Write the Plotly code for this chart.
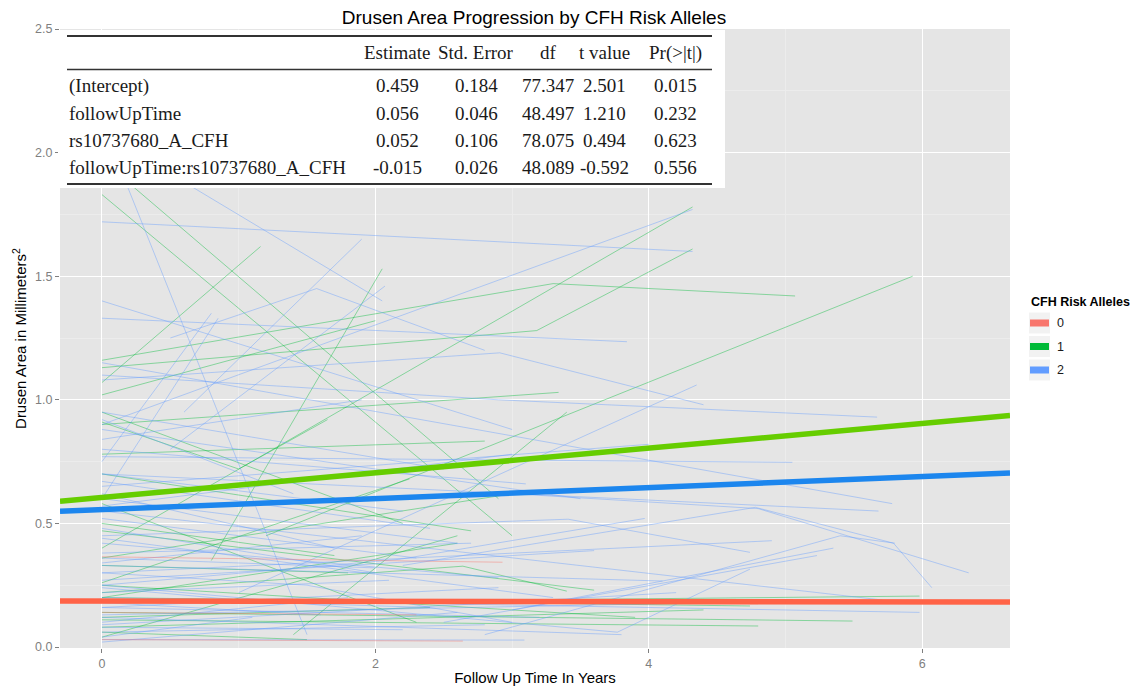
import plotly.graph_objects as go

# ---------------- data ----------------
group_levels = ["0", "1", "2"]

# thin per-subject trajectories: (times, values)
red_times = [[0, 2.93], [0, 2.64], [0, 2.3], [0, 4.8]]
red_values = [[0.365, 0.343], [0.03, 0.024], [0.14, 0.13], [0.185, 0.175]]

green_times = [
    [0, 3.0], [0, 2.9], [0, 1.16], [0.8, 2.05], [0, 3.3, 5.07], [0, 4.32],
    [0, 3.18, 4.32], [0, 3.34], [1.2, 5.93], [0, 2.8], [0, 1.0, 1.65],
    [0, 2.64, 3.4], [3.0, 5.98], [0, 5.49], [0, 4.8], [0, 4.74], [0, 2.6],
    [0, 2.3], [0, 2.25], [0, 2.6], [0, 2.0], [1.4, 3.4], [0, 1.8], [0, 3.6],
    [0, 1.5], [0, 2.2], [0, 2.4], [0, 3.9], [0, 1.7], [0, 4.4], [0, 2.7], [0, 3.0],
]
green_values = [
    [1.83, 0.45], [1.97, 0.60], [1.07, 1.62], [0.35, 1.53], [1.16, 1.47, 1.42], [0.40, 1.78],
    [1.13, 1.28, 1.61], [0.90, 1.03], [0.45, 1.50], [0.78, 0.833], [0.91, 0.72, 0.92],
    [0.22, 0.327, 0.226], [0.19, 0.206], [0.14, 0.105], [0.11, 0.085], [0.20, 0.166], [0.20, 0.42],
    [0.58, 0.10], [0.26, 0.68], [0.04, 0.45], [1.02, 1.32], [0.05, 0.95], [0.33, 0.30], [0.47, 0.23],
    [0.06, 0.03], [0.95, 0.50], [0.12, 0.16], [0.25, 0.12], [0.50, 0.37], [0.08, 0.15], [0.70, 0.47],
    [0.36, 0.62],
]

blue_times = [
    [0, 4.32], [0, 1.5], [0, 2.05], [0, 3.0], [0.6, 1.9], [0.5, 2.07], [0.5, 1.57, 2.8],
    [0, 4.32], [0, 3.84], [0, 2.91, 4.4], [1.0, 4.35], [0, 2.9, 5.67], [0, 5.78], [0, 5.05],
    [0, 5.68], [2.2, 4.78, 5.79, 6.07], [3.0, 4.8, 6.34], [2.8, 5.4, 5.8], [2.5, 5.23],
    [3.0, 5.35], [0, 5.71], [0, 5.98], [0, 3.41, 4.74], [0, 2.18, 3.97], [0, 4.1],
    [0, 3.77, 4.74], [0, 3.09], [0, 2.6], [0, 1.8], [0, 3.2], [0, 2.2], [0, 1.5, 3.0],
    [0, 2.0], [0, 2.7], [0, 1.7], [0, 2.4], [0, 0.8], [0, 0.85], [0, 2.5], [0, 3.5],
    [0, 1.9], [0, 2.2], [0, 4.0], [0, 3.0], [0, 2.9], [0, 2.0], [0, 3.6], [0, 1.2, 2.4],
    [0, 4.5], [0, 2.8], [0, 1.6], [0, 2.3], [0, 3.3], [0, 1.9], [0, 4.2], [0, 3.8],
    [0, 2.1], [0, 1.4], [0, 3.1], [0, 2.6], [0, 4.9], [0, 1.1], [0, 2.9],
]
blue_values = [
    [1.72, 1.60], [2.12, 0.05], [2.08, 1.40], [1.40, 0.88], [0.95, 1.65], [0.80, 1.46], [1.25, 1.45, 1.20],
    [0.90, 1.77], [1.33, 1.235], [1.08, 1.19, 0.98], [0.22, 1.06], [1.10, 1.00, 0.93], [1.15, 0.58], [0.77, 0.747],
    [0.70, 0.55], [0.33, 0.565, 0.42, 0.24], [0.62, 0.56, 0.30], [0.05, 0.45, 0.42], [0.10, 0.37],
    [0.15, 0.40], [0.55, 0.19], [0.20, 0.14], [0.45, 0.517, 0.383], [0.25, 0.355, 0.52], [0.33, 0.267],
    [0.25, 0.06, 0.315], [0.03, 0.028], [0.02, 0.14], [0.10, 0.20], [0.16, 0.12], [0.08, 0.07], [0.30, 0.25, 0.10],
    [0.48, 0.30], [0.38, 0.42], [0.62, 0.40], [0.67, 0.48], [0.75, 1.35], [0.60, 1.33], [0.95, 0.72], [0.88, 0.60],
    [0.84, 1.00], [0.70, 0.55], [0.65, 0.82], [0.57, 0.78], [0.42, 0.28], [0.36, 0.32], [0.27, 0.39], [0.24, 0.18, 0.16],
    [0.13, 0.18], [0.06, 0.09], [0.18, 0.13], [0.52, 0.36], [0.44, 0.20], [0.34, 0.45], [0.09, 0.22], [0.12, 0.05],
    [0.22, 0.27], [0.92, 0.62], [0.80, 0.66], [0.60, 0.42], [0.30, 0.43], [0.04, 0.12], [0.16, 0.24],
]

# per-group fitted lines (intercept, slope)
fit_intercepts = [0.186, 0.605, 0.556]
fit_slopes = [-0.0006, 0.0499, 0.0222]

# model summary table
table_title = "Drusen Area Progression by CFH Risk Alleles"
table_rows = ["(Intercept)", "followUpTime", "rs10737680_A_CFH", "followUpTime:rs10737680_A_CFH"]
table_cols = ["Estimate", "Std. Error", "df", "t value", "Pr(>|t|)"]
col_estimate = [0.459, 0.056, 0.052, -0.015]
col_stderr = [0.184, 0.046, 0.106, 0.026]
col_df = [77.347, 48.497, 78.075, 48.089]
col_tvalue = [2.501, 1.210, 0.494, -0.592]
col_p = [0.015, 0.232, 0.623, 0.556]

x_ticks = [0, 2, 4, 6]
y_ticks = [0.0, 0.5, 1.0, 1.5, 2.0, 2.5]

# ---------------- styling ----------------
legend_colors = {"0": "#F8766D", "1": "#00BA38", "2": "#619CFF"}
thin_colors = {"0": "rgba(248,118,109,0.45)", "1": "rgba(0,186,56,0.42)", "2": "rgba(97,156,255,0.42)"}
fit_colors = {"0": "#FF6347", "1": "#66CD00", "2": "#1C86EE"}

W, H = 1145, 690
L, R, T, B = 60, 135, 29, 42
x_range = [-0.307, 6.642]
y_range = [-0.004, 2.5]


def px(xp):
    return (xp - L) / (W - L - R)


def py(yp):
    return (H - B - yp) / (H - T - B)


def joined(times, values):
    xs, ys = [], []
    for t, v in zip(times, values):
        xs += list(t) + [None]
        ys += list(v) + [None]
    return xs, ys


fig = go.Figure()

for g, (tt, vv) in zip(["1", "2", "0"], [(green_times, green_values), (blue_times, blue_values), (red_times, red_values)]):
    xs, ys = joined(tt, vv)
    fig.add_trace(go.Scatter(x=xs, y=ys, mode="lines", connectgaps=False,
                             line=dict(color=thin_colors[g], width=1), showlegend=False, hoverinfo="skip"))

for g, a, b in zip(group_levels, fit_intercepts, fit_slopes):
    fig.add_trace(go.Scatter(x=x_range, y=[a + b * x_range[0], a + b * x_range[1]], mode="lines",
                             line=dict(color=fit_colors[g], width=5.5), showlegend=False, hoverinfo="skip"))

shapes = []
annotations = []

# table box
shapes.append(dict(type="rect", xref="paper", yref="paper", x0=px(58), x1=px(725), y0=py(188), y1=py(30),
                   fillcolor="white", line=dict(width=0), layer="above"))
for yl, lw in [(36, 2), (69.5, 1.6), (184, 2)]:
    shapes.append(dict(type="line", xref="paper", yref="paper", x0=px(67), x1=px(712), y0=py(yl), y1=py(yl),
                       line=dict(color="#333333", width=lw), layer="above"))

serif = "Liberation Serif, Times New Roman, serif"
tcol = "#1a1a1a"
col_centers = [397, 476, 548, 604, 675]
row_y = [86, 113, 140, 167]
for c, cx in zip(table_cols, col_centers):
    annotations.append(dict(x=px(cx), y=py(53), xref="paper", yref="paper", text=c, showarrow=False,
                            xanchor="center", yanchor="middle", font=dict(family=serif, size=19, color=tcol)))
columns = [col_estimate, col_stderr, col_df, col_tvalue, col_p]
for i, (rn, ry) in enumerate(zip(table_rows, row_y)):
    annotations.append(dict(x=px(67), y=py(ry), xref="paper", yref="paper", text=rn, showarrow=False,
                            xanchor="left", yanchor="middle", font=dict(family=serif, size=19, color=tcol)))
    for col, cx in zip(columns, col_centers):
        annotations.append(dict(x=px(cx), y=py(ry), xref="paper", yref="paper", text=f"{col[i]:.3f}",
                                showarrow=False, xanchor="center", yanchor="middle",
                                font=dict(family=serif, size=19, color=tcol)))

# legend (ggplot style)
sans = "Liberation Sans, Arial, sans-serif"
annotations.append(dict(x=px(1029), y=py(302), xref="paper", yref="paper", text="<b>CFH Risk Alleles</b>",
                        showarrow=False, xanchor="left", yanchor="middle", font=dict(family=sans, size=12.5, color="black")))
for g, ky in zip(group_levels, [323, 346.5, 370]):
    shapes.append(dict(type="rect", xref="paper", yref="paper", x0=px(1029), x1=px(1050), y0=py(ky + 10.5), y1=py(ky - 10.5),
                       fillcolor="#F2F2F2", line=dict(width=0), layer="above"))
    shapes.append(dict(type="rect", xref="paper", yref="paper", x0=px(1030), x1=px(1049), y0=py(ky + 3.5), y1=py(ky - 3.5),
                       fillcolor=legend_colors[g], line=dict(width=0), layer="above"))
    annotations.append(dict(x=px(1055), y=py(ky), xref="paper", yref="paper", text=g, showarrow=False,
                            xanchor="left", yanchor="middle", font=dict(family=sans, size=12.5, color="#1a1a1a")))

fig.update_layout(
    width=W, height=H, margin=dict(l=L, r=R, t=T, b=B, autoexpand=False),
    paper_bgcolor="white", plot_bgcolor="#E5E5E5",
    title=dict(text=table_title, x=534 / W, y=1 - 17 / H, xanchor="center", yanchor="middle",
               font=dict(family=sans, size=19, color="black")),
    showlegend=False, shapes=shapes, annotations=annotations,
    xaxis=dict(range=x_range, tickvals=x_ticks, ticktext=[str(v) for v in x_ticks],
               showgrid=True, gridcolor="white", gridwidth=1.2, zeroline=False, showline=False,
               minor=dict(dtick=1, tick0=0, showgrid=True, gridcolor="#ECECEC", gridwidth=0.5),
               ticks="outside", ticklen=4, tickcolor="#7F7F7F", tickwidth=1,
               tickfont=dict(family=sans, size=12.5, color="#7F7F7F"), automargin=False,
               title=dict(text="Follow Up Time In Years", standoff=2, font=dict(family=sans, size=15, color="black"))),
    yaxis=dict(range=y_range, tickvals=y_ticks, ticktext=[f"{v:.1f}" for v in y_ticks],
               showgrid=True, gridcolor="white", gridwidth=1.2, zeroline=False, showline=False,
               minor=dict(dtick=0.25, tick0=0, showgrid=True, gridcolor="#ECECEC", gridwidth=0.5),
               ticks="outside", ticklen=4, tickcolor="#7F7F7F", tickwidth=1,
               tickfont=dict(family=sans, size=12.5, color="#7F7F7F"), automargin=False,
               title=dict(text="Drusen Area in Millimeters<sup>2</sup>", standoff=4,
                          font=dict(family=sans, size=15, color="black"))),
)

fig.write_html("out.html")
